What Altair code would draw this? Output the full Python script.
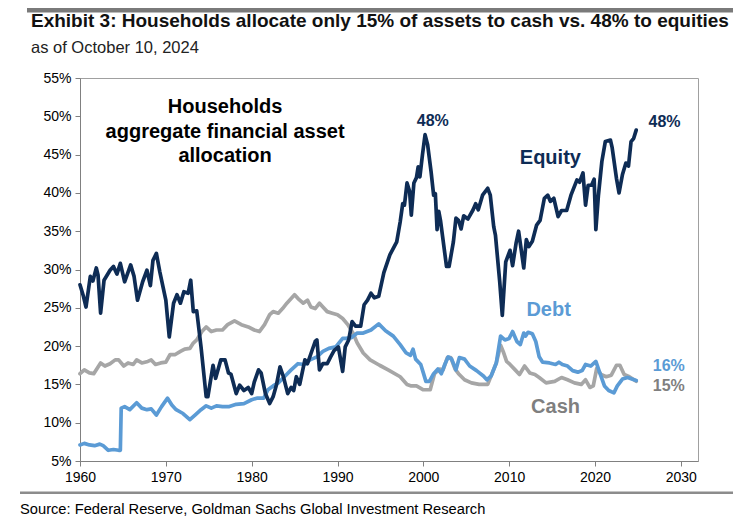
import altair as alt
import pandas as pd

# ---------------- data ----------------
eq_year = [1960.0, 1960.4, 1960.7, 1961.2, 1961.5, 1961.9, 1962.1, 1962.4, 1962.8, 1963.5,
           1963.9, 1964.3, 1964.7, 1965.2, 1965.9, 1966.3, 1966.7, 1967.3, 1967.8, 1968.2,
           1968.5, 1968.9, 1969.3, 1970.0, 1970.4, 1970.9, 1971.3, 1971.7, 1972.1, 1972.6,
           1972.9, 1973.2, 1973.6, 1974.1, 1974.7, 1974.9, 1975.5, 1975.8, 1976.4, 1976.9,
           1977.3, 1977.6, 1978.2, 1978.6, 1979.1, 1979.6, 1980.0, 1980.3, 1980.8, 1981.1,
           1981.6, 1982.1, 1982.5, 1982.9, 1983.3, 1983.7, 1984.2, 1984.6, 1984.9, 1985.2,
           1985.6, 1986.2, 1986.5, 1986.9, 1987.4, 1987.6, 1987.9, 1988.3, 1988.8, 1989.2,
           1989.6, 1990.1, 1990.6, 1990.9, 1991.3, 1991.7, 1992.1, 1992.7, 1993.1, 1993.5,
           1993.9, 1994.3, 1994.8, 1995.4, 1996.1, 1996.9, 1997.3, 1997.6, 1997.8, 1998.1,
           1998.4, 1998.6, 1998.9, 1999.2, 1999.4, 1999.6, 1999.9, 2000.2, 2000.5, 2000.9,
           2001.2, 2001.4, 2001.6, 2001.8, 2002.0, 2002.7, 2003.0, 2003.5, 2003.8, 2004.1,
           2004.4, 2004.7, 2005.2, 2005.8, 2006.1, 2006.4, 2006.9, 2007.5, 2007.8, 2008.2,
           2008.4, 2008.9, 2009.2, 2009.6, 2010.1, 2010.4, 2010.8, 2011.1, 2011.7, 2012.0,
           2012.3, 2012.7, 2013.2, 2013.6, 2014.1, 2014.5, 2014.8, 2015.2, 2015.7, 2016.1,
           2016.7, 2017.2, 2017.9, 2018.2, 2018.6, 2018.9, 2019.2, 2019.6, 2019.9, 2020.1,
           2020.4, 2020.8, 2021.2, 2021.8, 2022.0, 2022.5, 2022.8, 2023.2, 2023.6, 2023.9,
           2024.2, 2024.5, 2024.8]
eq_val = [28.0, 26.5, 25.1, 29.1, 28.5, 30.2, 29.3, 24.3, 28.6, 29.9,
          30.4, 29.4, 30.8, 28.4, 30.6, 29.1, 26.0, 28.4, 29.9, 27.9,
          31.2, 32.1, 29.7, 26.0, 21.2, 25.6, 26.7, 25.6, 27.1, 26.9,
          28.6, 24.5, 24.6, 19.9, 13.4, 13.4, 17.5, 15.8, 18.2, 18.2,
          16.5, 16.3, 13.8, 14.9, 14.2, 14.6, 13.8, 15.3, 16.9, 16.5,
          13.8, 12.5, 13.4, 15.0, 17.3, 16.0, 13.8, 14.6, 14.2, 16.0,
          15.0, 18.2, 17.7, 19.0, 20.6, 20.8, 16.9, 17.7, 17.7, 18.6,
          19.4, 19.9, 16.7, 19.9, 20.8, 23.2, 22.6, 22.6, 25.4, 26.0,
          26.9, 26.3, 26.5, 29.6, 31.9, 33.6, 36.2, 38.6, 38.4, 41.3,
          40.2, 37.1, 41.3, 42.0, 43.4, 42.1, 45.0, 47.6, 46.3, 42.8,
          39.7, 39.9, 35.2, 37.6, 36.4, 30.4, 30.4, 33.6, 36.7, 36.4,
          35.3, 37.0, 36.6, 37.8, 38.6, 37.8, 39.7, 40.6, 39.7, 35.6,
          34.5, 28.4, 24.0, 31.0, 32.5, 30.5, 33.4, 35.0, 30.2, 33.9,
          33.0, 33.7, 35.8, 36.4, 39.3, 39.7, 38.9, 39.3, 36.9, 37.7,
          37.7, 39.7, 41.7, 41.4, 42.6, 38.4, 41.0, 41.0, 41.8, 35.2,
          39.7, 44.1, 46.7, 46.9, 45.9, 41.9, 40.0, 42.4, 43.9, 43.5,
          46.7, 47.1, 48.2]

cash_year = [1960.0, 1960.5, 1961.1, 1961.6, 1962.4, 1962.9, 1963.5, 1964.1, 1964.5, 1965.1,
             1965.6, 1966.2, 1966.6, 1967.2, 1967.9, 1968.3, 1968.8, 1969.4, 1970.0, 1970.5,
             1971.1, 1971.7, 1972.2, 1972.8, 1973.2, 1973.6, 1974.2, 1974.7, 1975.3, 1975.9,
             1976.6, 1977.2, 1978.0, 1978.8, 1979.6, 1980.3, 1980.9, 1981.5, 1982.1, 1982.5,
             1983.1, 1983.6, 1984.1, 1984.6, 1985.0, 1985.4, 1986.0, 1986.5, 1986.9, 1987.4,
             1987.9, 1988.3, 1988.8, 1989.4, 1990.0, 1990.6, 1991.2, 1991.8, 1992.3, 1993.0,
             1993.8, 1994.9, 1995.9, 1997.3, 1998.1, 1998.6, 1999.2, 2000.0, 2000.8, 2001.3,
             2001.9, 2002.3, 2002.8, 2003.2, 2003.7, 2004.1, 2004.8, 2005.6, 2006.5, 2007.5,
             2008.0, 2008.5, 2009.0, 2009.3, 2009.7, 2010.1, 2010.7, 2011.2, 2011.8, 2012.4,
             2013.0, 2013.5, 2014.3, 2015.3, 2016.1, 2016.8, 2017.6, 2018.4, 2018.9, 2019.4,
             2019.8, 2020.2, 2020.7, 2021.3, 2021.9, 2022.5, 2022.9, 2023.4, 2024.0, 2024.8]
cash_val = [16.4, 16.9, 16.5, 16.4, 17.8, 17.4, 17.7, 18.2, 18.2, 17.4,
            17.8, 17.6, 18.2, 17.8, 18.0, 18.2, 17.6, 17.8, 17.9, 18.9,
            18.9, 19.3, 19.6, 19.7, 20.4, 20.8, 21.9, 22.5, 21.9, 22.1,
            22.1, 22.8, 23.3, 22.8, 22.5, 22.1, 21.9, 22.8, 24.1, 24.5,
            24.3, 24.9, 25.6, 26.2, 26.7, 26.2, 25.6, 26.0, 25.1, 24.9,
            25.6, 25.1, 24.5, 24.3, 24.1, 23.6, 22.8, 21.7, 20.4, 19.1,
            18.2, 17.5, 16.9, 16.0, 15.0, 14.8, 14.8, 14.3, 14.3, 16.4,
            17.0, 16.9, 18.5, 18.5, 17.0, 16.4, 15.6, 15.2, 15.0, 15.0,
            16.4, 17.8, 20.1, 19.3, 18.0, 17.6, 16.9, 16.3, 17.4, 16.5,
            16.3, 15.9, 15.2, 15.4, 15.9, 15.6, 15.2, 15.0, 15.6, 14.6,
            14.8, 17.1, 16.3, 16.0, 16.2, 17.5, 17.5, 16.3, 16.0, 15.4]

debt_year = [1960.0, 1960.5, 1961.1, 1961.7, 1962.3, 1962.7, 1963.3, 1963.9, 1964.5, 1964.7,
             1964.8, 1965.2, 1965.8, 1966.6, 1967.2, 1967.8, 1968.3, 1968.9, 1969.5, 1970.2,
             1970.7, 1971.2, 1972.0, 1972.8, 1973.4, 1974.1, 1974.7, 1975.3, 1975.9, 1976.6,
             1977.4, 1978.2, 1979.1, 1980.0, 1980.6, 1981.4, 1981.9, 1982.5, 1983.1, 1983.9,
             1984.6, 1985.4, 1986.2, 1986.8, 1987.6, 1988.3, 1989.0, 1989.8, 1990.6, 1991.0,
             1991.6, 1992.3, 1993.0, 1993.9, 1994.8, 1995.6, 1996.5, 1997.3, 1998.0, 1998.5,
             1998.8, 1999.1, 1999.7, 2000.0, 2000.3, 2000.7, 2001.2, 2001.7, 2002.1, 2002.5,
             2002.9, 2003.3, 2003.8, 2004.2, 2004.8, 2005.4, 2006.2, 2007.0, 2007.4, 2007.9,
             2008.5, 2009.0, 2009.5, 2010.0, 2010.4, 2010.9, 2011.3, 2011.7, 2011.9, 2012.2,
             2012.7, 2013.1, 2013.5, 2013.9, 2014.7, 2015.4, 2015.8, 2016.2, 2016.8, 2017.4,
             2018.0, 2018.5, 2018.9, 2019.5, 2020.1, 2020.5, 2021.1, 2021.6, 2022.2, 2022.6,
             2023.2, 2023.8, 2024.3, 2024.8]
debt_val = [7.1, 7.3, 7.1, 7.0, 7.2, 7.0, 6.4, 6.5, 6.4, 6.4,
            11.9, 12.1, 11.7, 12.6, 11.9, 11.7, 11.8, 11.0, 12.1, 13.2,
            12.3, 11.7, 11.2, 10.4, 11.0, 11.7, 12.2, 11.9, 12.2, 12.1,
            12.1, 12.4, 12.5, 13.0, 13.2, 13.2, 14.3, 14.8, 15.2, 16.1,
            16.9, 17.7, 17.6, 18.2, 18.6, 19.3, 19.7, 19.9, 21.0, 21.0,
            21.1, 21.7, 21.7, 22.1, 22.9, 22.0, 21.3, 20.2, 19.1, 18.8,
            19.6, 18.3, 17.6, 16.5, 15.4, 15.4, 16.4, 17.0, 16.4, 17.6,
            18.6, 18.3, 16.9, 18.5, 18.3, 17.4, 16.8, 16.1, 15.6, 16.1,
            17.8, 21.3, 20.8, 21.0, 21.9, 20.6, 20.2, 21.7, 21.3, 21.8,
            21.6, 20.6, 18.6, 17.9, 17.8, 17.6, 17.9, 17.6, 17.4, 16.8,
            16.6, 16.8, 17.6, 17.4, 18.0, 16.7, 14.8, 14.2, 13.9, 14.8,
            15.7, 15.9, 15.7, 15.5]

x_ticks = [1960, 1970, 1980, 1990, 2000, 2010, 2020, 2030]
y_ticks = [5, 10, 15, 20, 25, 30, 35, 40, 45, 50, 55]

title_text = "Exhibit 3: Households allocate only 15% of assets to cash vs. 48% to equities"
subtitle_text = "as of October 10, 2024"
source_text = "Source: Federal Reserve, Goldman Sachs Global Investment Research"
inner_title = "Households\naggregate financial asset\nallocation"

series_labels = ["Equity", "Debt", "Cash"]
series_label_year = [2014.8, 2014.6, 2015.4]
series_label_val = [44.6, 24.7, 12.1]

end_labels = ["48%", "48%", "16%", "15%"]
end_label_year = [2001.1, 2028.1, 2028.6, 2028.6]
end_label_val = [49.4, 49.2, 17.4, 14.8]

NAVY = "#0E2C55"
BLUE = "#5B9BD5"
GRAY = "#A6A6A6"
DGRAY = "#7F7F7F"
FONT = "Liberation Sans"

W, H = 618, 383

x_scale = alt.Scale(domain=[1960, 2032], nice=False, zero=False)
y_scale = alt.Scale(domain=[5, 55], nice=False, zero=False)
x_axis = alt.Axis(values=x_ticks, format="d", title=None, grid=False, labelPadding=4,
                  tickSize=5, labelFlush=False, labelOverlap=False)
y_axis = alt.Axis(values=y_ticks, labelExpr="datum.value + '%'", title=None, grid=False,
                  labelPadding=4, tickSize=5, labelOverlap=False, labelFlush=False,
                  tickCount=11)

eq_df = pd.DataFrame({"year": eq_year, "value": eq_val})
cash_df = pd.DataFrame({"year": cash_year, "value": cash_val})
debt_df = pd.DataFrame({"year": debt_year, "value": debt_val})


def line(df, color):
    return alt.Chart(df).mark_line(color=color, strokeWidth=3.7, strokeJoin="round",
                                   strokeCap="round").encode(
        x=alt.X("year:Q", scale=x_scale, axis=x_axis),
        y=alt.Y("value:Q", scale=y_scale, axis=y_axis),
    )


def label(text, year, val, color, size, weight="bold", **kw):
    df = pd.DataFrame({"year": [year], "value": [val], "t": [text]})
    return alt.Chart(df).mark_text(color=color, fontSize=size, fontWeight=weight, font=FONT,
                                   **kw).encode(
        x=alt.X("year:Q", scale=x_scale, axis=x_axis),
        y=alt.Y("value:Q", scale=y_scale, axis=y_axis),
        text="t:N",
    )


layers = [line(cash_df, GRAY), line(debt_df, BLUE), line(eq_df, NAVY)]

layers.append(label(inner_title, 1976.9, 50.4, "#000000", 20, lineBreak="\n",
                    lineHeight=24.5, baseline="alphabetic", align="center"))
colors_series = [NAVY, BLUE, DGRAY]
for t, yr, v, c in zip(series_labels, series_label_year, series_label_val, colors_series):
    layers.append(label(t, yr, v, c, 20, baseline="middle", align="center"))
colors_end = [NAVY, NAVY, BLUE, DGRAY]
for t, yr, v, c in zip(end_labels, end_label_year, end_label_val, colors_end):
    layers.append(label(t, yr, v, c, 16, baseline="middle", align="center"))

# decorative separator bars and page texts
dummy = pd.DataFrame({"t": [source_text]})
top_bar = alt.Chart(dummy).mark_rect(color="#7A7A7A", opacity=1).encode(
    x=alt.value(-53), x2=alt.value(W + 35), y=alt.value(-70), y2=alt.value(-65.5))
bottom_bar = alt.Chart(dummy).mark_rect(color="#8C8C8C").encode(
    x=alt.value(-60), x2=alt.value(W + 35), y=alt.value(H + 30.5), y2=alt.value(H + 33))
source = alt.Chart(dummy).mark_text(align="left", baseline="alphabetic", fontSize=14.7,
                                    font=FONT, color="#000000").encode(
    x=alt.value(-60), y=alt.value(H + 53), text="t:N")
title_df = pd.DataFrame({"t": [title_text]})
title = alt.Chart(title_df).mark_text(align="left", baseline="alphabetic", fontSize=19.0,
                                      fontWeight="bold", font=FONT, color="#111111").encode(
    x=alt.value(-49), y=alt.value(-51), text="t:N")
sub_df = pd.DataFrame({"t": [subtitle_text]})
subtitle = alt.Chart(sub_df).mark_text(align="left", baseline="alphabetic", fontSize=16.5,
                                       font=FONT, color="#222222").encode(
    x=alt.value(-49), y=alt.value(-25), text="t:N")

layers += [top_bar, bottom_bar, source, title, subtitle]

chart = alt.layer(*layers).properties(
    width=W, height=H,
    autosize=alt.AutoSizeParams(type="none"),
    padding={"left": 72, "top": 70, "right": 35, "bottom": 56},
).configure_view(
    stroke="#A0A0A0", strokeWidth=1
).configure_axis(
    labelFont=FONT, labelFontSize=14, labelColor="#000000",
    domainColor="#808080", tickColor="#808080", domainWidth=1, labelOverlap=False,
).configure_text(font=FONT)

chart.save("out.html", embed_options={"renderer": "svg", "actions": False})
